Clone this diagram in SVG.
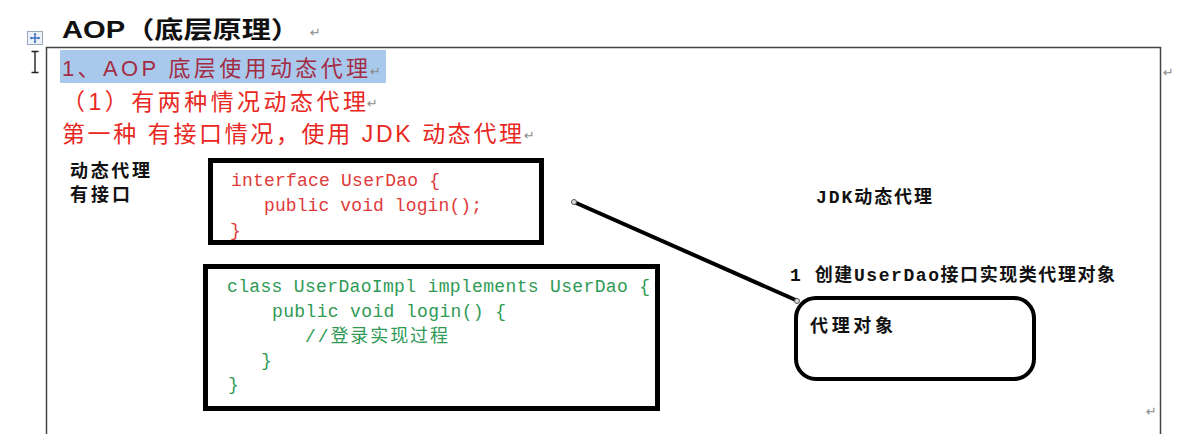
<svg xmlns="http://www.w3.org/2000/svg" width="1204" height="434" viewBox="0 0 1204 434">
<defs>
<style>
.title{font-family:"Liberation Sans","Noto Sans CJK SC",sans-serif;font-weight:bold;font-size:24px;fill:#111}
.red{font-family:"Liberation Sans","Noto Sans CJK SC",sans-serif;font-size:23px;fill:#e8281e}
.hl{font-family:"Liberation Sans","Noto Sans CJK SC",sans-serif;font-size:22px;fill:#a32c45}
.lbl{font-family:"Liberation Mono","Noto Sans CJK SC",monospace;font-weight:bold;font-size:18px;fill:#111}
.codeR{font-family:"Liberation Mono","Noto Sans CJK SC",monospace;font-size:18px;fill:#e03a3a}
.codeG{font-family:"Liberation Mono","Noto Sans CJK SC",monospace;font-size:18px;fill:#2f9a55}
.mark{font-family:"DejaVu Sans",sans-serif;font-size:13px;fill:#8a8a8a}
.box{fill:#fff;stroke:#000;stroke-width:5}
.frame{fill:none;stroke:#444;stroke-width:1.5}
</style>
</defs>
<rect width="1204" height="434" fill="#fff"/>

<!-- page chrome -->
<g id="chrome">
  <rect x="27.5" y="31.5" width="15" height="13" fill="#eef3fa" stroke="#9aa8bb" stroke-width="1"/>
  <path d="M35 33.5v9M30.5 38h9" stroke="#3c6fc0" stroke-width="1.4"/>
  <path d="M35 32.8l-1.6 2h3.2zM35 43.2l-1.6-2h3.2zM29.8 38l2-1.6v3.2zM40.2 38l-2-1.6v3.2z" fill="#3c6fc0"/>
  <path d="M35 52v20M31.5 51.5h7M31.5 72.5h7" stroke="#222" stroke-width="1.4" fill="none"/>
  <path class="frame" d="M46.5 434V47.5H1160.5V434"/>
</g>

<g id="title">
  <text class="title" x="62" y="38" textLength="238" lengthAdjust="spacingAndGlyphs">AOP（底层原理）</text>
  <text class="mark" x="310" y="37">↵</text>
</g>

<g id="heading-lines">
  <rect x="60" y="50" width="326" height="33" fill="#a9c9ec"/>
  <text class="hl" x="62" y="76" textLength="306" lengthAdjust="spacing">1、AOP 底层使用动态代理</text>
  <text class="mark" x="370" y="76">↵</text>
  <text class="red" x="62" y="110" textLength="304" lengthAdjust="spacing">（1）有两种情况动态代理</text>
  <text class="mark" x="367" y="108">↵</text>
  <text class="red" x="62" y="142" textLength="460" lengthAdjust="spacing">第一种 有接口情况，使用 JDK 动态代理</text>
  <text class="mark" x="524" y="140">↵</text>
  <text class="mark" x="1163" y="77">↵</text>
  <text class="mark" x="1146" y="416">↵</text>
</g>

<g id="side-label">
  <text class="lbl" x="70" y="177" textLength="80" lengthAdjust="spacing">动态代理</text>
  <text class="lbl" x="70" y="201" textLength="60" lengthAdjust="spacing">有接口</text>
</g>

<g id="interface-box">
  <rect class="box" x="210.5" y="160.5" width="331" height="82"/>
  <text class="codeR" x="231" y="186" textLength="209" lengthAdjust="spacing">interface UserDao {</text>
  <text class="codeR" x="264" y="211" textLength="218" lengthAdjust="spacing">public void login();</text>
  <text class="codeR" x="230" y="236">}</text>
</g>

<g id="impl-box">
  <rect class="box" x="205.5" y="266.5" width="452" height="142"/>
  <text class="codeG" x="227" y="292" textLength="423" lengthAdjust="spacing">class UserDaoImpl implements UserDao {</text>
  <text class="codeG" x="272" y="317" textLength="234" lengthAdjust="spacing">public void login() {</text>
  <text class="codeG" x="305" y="342" textLength="143" lengthAdjust="spacing">//登录实现过程</text>
  <text class="codeG" x="261" y="366">}</text>
  <text class="codeG" x="228" y="390">}</text>
</g>

<g id="jdk-label">
  <text class="lbl" x="816" y="203" textLength="116" lengthAdjust="spacing">JDK动态代理</text>
  <text class="lbl" x="790" y="281" textLength="325" lengthAdjust="spacing">1 创建UserDao接口实现类代理对象</text>
</g>

<g id="proxy-object">
  <rect x="796" y="298" width="238" height="81" rx="20" ry="20" fill="#fff" stroke="#000" stroke-width="4"/>
  <text class="lbl" x="810" y="332" textLength="83" lengthAdjust="spacing">代理对象</text>
</g>

<g id="connectors">
  <line x1="574" y1="202" x2="798" y2="301" stroke="#000" stroke-width="4"/>
  <circle cx="574" cy="202" r="2.5" fill="#ddd" stroke="#555" stroke-width="1"/>
  <circle cx="797" cy="301" r="2.5" fill="#ddd" stroke="#555" stroke-width="1"/>
</g>
</svg>
